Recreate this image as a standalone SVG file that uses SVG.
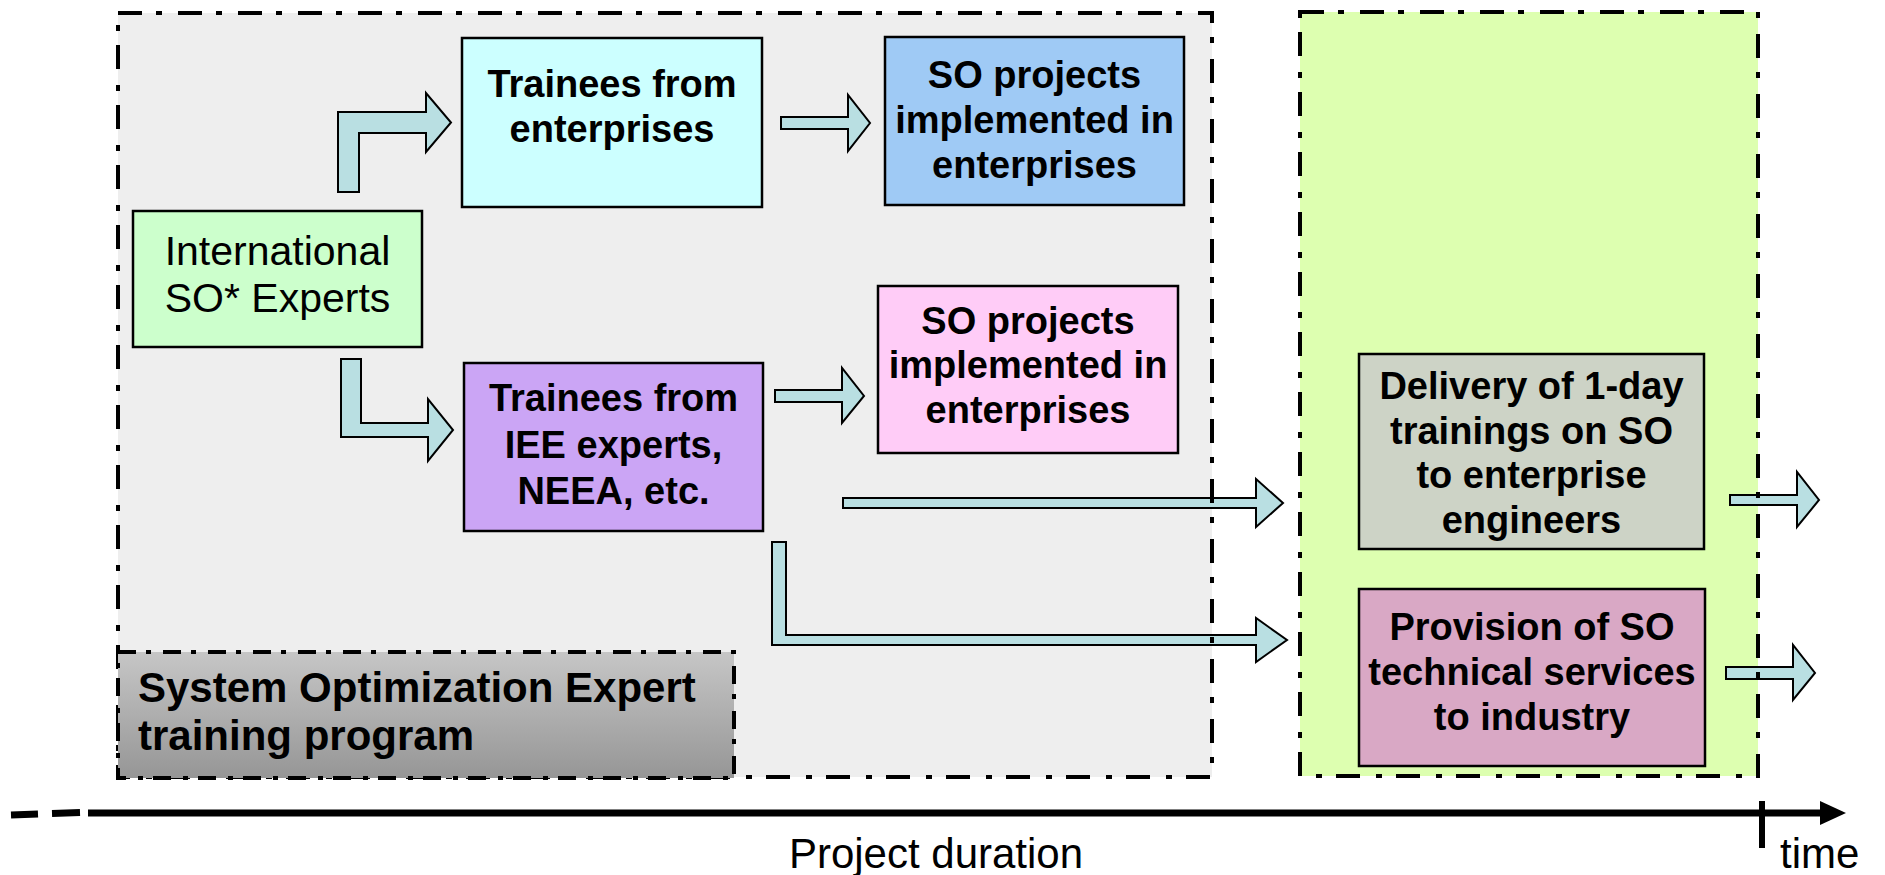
<svg xmlns="http://www.w3.org/2000/svg" width="1885" height="875" viewBox="0 0 1885 875">
<defs>
<style>
.region{stroke:#000;stroke-width:4;stroke-dasharray:24 14 6 16;fill:none}
.box{stroke:#000;stroke-width:2.5}
.arrow{fill:#b9dfe2;stroke:#000;stroke-width:2;stroke-linejoin:miter}
.bt{font-family:"Liberation Sans",Arial,sans-serif;font-weight:bold;font-size:38px;text-anchor:middle;fill:#000}
.rt{font-family:"Liberation Sans",Arial,sans-serif;font-size:41px;text-anchor:middle;fill:#000}
.lt{font-family:"Liberation Sans",Arial,sans-serif;font-weight:bold;font-size:42px;fill:#000}
.axt{font-family:"Liberation Sans",Arial,sans-serif;font-size:42px;fill:#000}
</style>
<linearGradient id="lblg" x1="0" y1="0" x2="0" y2="1">
<stop offset="0" stop-color="#c6c6c6"/>
<stop offset="1" stop-color="#969696"/>
</linearGradient>
</defs>
<rect width="1885" height="875" fill="#fff"/>

<g id="region-training">
<rect x="118" y="13" width="1094" height="764" fill="#eeeeee"/>
</g>
<g id="region-after">
<rect x="1300" y="12" width="458" height="764" fill="#ddffb0"/>
</g>

<g id="connectors">
<path class="arrow" d="M338,192 L338,112 L426,112 L426,93 L451,122.5 L426,152 L426,133 L359,133 L359,192 Z"/>
<path class="arrow" d="M341,359 L361,359 L361,423 L428,423 L428,399 L453,430 L428,461 L428,437 L341,437 Z"/>
<path class="arrow" d="M781,117 L848,117 L848,95 L870,123 L848,151 L848,129 L781,129 Z"/>
<path class="arrow" d="M775,390 L842,390 L842,368 L864,396 L842,423 L842,402 L775,402 Z"/>
<path class="arrow" d="M843,498 L1256,498 L1256,479 L1283,503 L1256,527 L1256,508 L843,508 Z"/>
<path class="arrow" d="M772,542 L786,542 L786,635 L1256,635 L1256,618 L1287,640 L1256,662 L1256,645 L772,645 Z"/>
<path class="arrow" d="M1730,495 L1797,495 L1797,472 L1819,500 L1797,527 L1797,505 L1730,505 Z"/>
<path class="arrow" d="M1726,667 L1793,667 L1793,645 L1815,673 L1793,700 L1793,679 L1726,679 Z"/>
</g>

<g id="region-borders">
<rect class="region" x="118" y="13" width="1094" height="764"/>
<rect class="region" x="1300" y="12" width="458" height="764"/>
</g>

<g id="label-program">
<rect x="118" y="652" width="616" height="126" fill="url(#lblg)" stroke="#000" stroke-width="4" stroke-dasharray="18 10 5 12"/>
<text class="lt" x="138" y="702">System Optimization Expert</text>
<text class="lt" x="138" y="750">training program</text>
</g>

<g id="node-experts">
<rect class="box" x="133" y="211" width="289" height="136" fill="#ccffcc"/>
<text class="rt" x="277.5" y="265">International</text>
<text class="rt" x="277.5" y="312">SO* Experts</text>
</g>

<g id="node-trainees-ent">
<rect class="box" x="462" y="38" width="300" height="169" fill="#ccffff"/>
<text class="bt" x="612" y="97">Trainees from</text>
<text class="bt" x="612" y="142">enterprises</text>
</g>

<g id="node-projects-1">
<rect class="box" x="885" y="37" width="299" height="168" fill="#9fcaf5"/>
<text class="bt" x="1034.5" y="88">SO projects</text>
<text class="bt" x="1034.5" y="133">implemented in</text>
<text class="bt" x="1034.5" y="178">enterprises</text>
</g>

<g id="node-trainees-iee">
<rect class="box" x="464" y="363" width="299" height="168" fill="#cba5f5"/>
<text class="bt" x="613.5" y="411">Trainees from</text>
<text class="bt" x="613.5" y="458">IEE experts,</text>
<text class="bt" x="613.5" y="504">NEEA, etc.</text>
</g>

<g id="node-projects-2">
<rect class="box" x="878" y="286" width="300" height="167" fill="#ffccf7"/>
<text class="bt" x="1028" y="334">SO projects</text>
<text class="bt" x="1028" y="378">implemented in</text>
<text class="bt" x="1028" y="423">enterprises</text>
</g>

<g id="node-delivery">
<rect class="box" x="1359" y="354" width="345" height="195" fill="#cdd3c6"/>
<text class="bt" x="1531.5" y="399">Delivery of 1-day</text>
<text class="bt" x="1531.5" y="443.5">trainings on SO</text>
<text class="bt" x="1531.5" y="488">to enterprise</text>
<text class="bt" x="1531.5" y="532.5">engineers</text>
</g>

<g id="node-provision">
<rect class="box" x="1359" y="589" width="346" height="177" fill="#d9a8c5"/>
<text class="bt" x="1532" y="640">Provision of SO</text>
<text class="bt" x="1532" y="685">technical services</text>
<text class="bt" x="1532" y="730">to industry</text>
</g>

<g id="timeline">
<line x1="11" y1="815" x2="38" y2="814" stroke="#000" stroke-width="7"/>
<line x1="52" y1="813.5" x2="80" y2="812.5" stroke="#000" stroke-width="7"/>
<line x1="88" y1="813" x2="1822" y2="813" stroke="#000" stroke-width="7"/>
<polygon points="1820,801 1846,813 1820,825" fill="#000"/>
<line x1="1762" y1="801" x2="1762" y2="848" stroke="#000" stroke-width="6"/>
<text class="axt" x="936" y="868" text-anchor="middle">Project duration</text>
<text class="axt" x="1780" y="868">time</text>
</g>
</svg>
